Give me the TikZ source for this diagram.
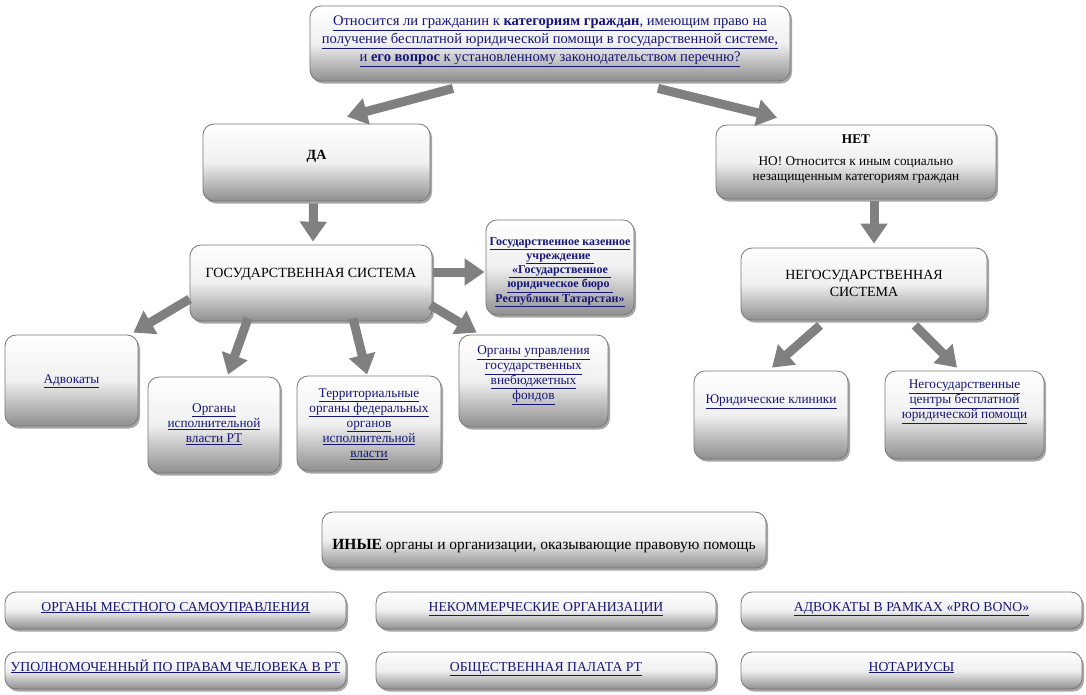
\documentclass[tikz,border=0pt]{standalone}
\usepackage{fontspec}
\setmainfont{Liberation Serif}
\usetikzlibrary{shadows,arrows.meta,calc}
\definecolor{lnk}{RGB}{22,22,120}
\definecolor{arrc}{RGB}{128,128,128}
\definecolor{boxline}{RGB}{120,120,120}
\newcommand\ul[1]{\underline{#1}}
\tikzset{
  box/.style={draw=boxline, line width=0.8pt, rounded corners=11pt,
    top color=white, bottom color=gray!88, middle color=gray!12,
    drop shadow={shadow xshift=2pt, shadow yshift=-2.5pt, opacity=0.35, fill=black},
    inner sep=0pt},
  txt/.style={align=center, font=\fontsize{13.3}{15}\selectfont, inner sep=0pt},
  lk/.style={txt, text=lnk},
  rowt/.style={lk, anchor=base, font=\fontsize{13.7}{15}\selectfont},
  arr/.style={draw=arrc, line width=9pt, -{Triangle[length=20pt,width=26pt]}},
}
\begin{document}
\begin{tikzpicture}[x=1pt,y=-1pt]
\useasboundingbox[fill=white] (0,0) rectangle (1086,694);

% boxes
\node[box, minimum width=480, minimum height=75] (top) at (550,43.5) {};
\node[box, minimum width=227, minimum height=77] (da) at (316.5,162.5) {};
\node[box, minimum width=280, minimum height=74] (net) at (856,162) {};
\node[box, minimum width=242, minimum height=76] (gos) at (311,283) {};
\node[box, minimum width=148, minimum height=95] (gku) at (560,267.5) {};
\node[box, minimum width=246, minimum height=72] (negos) at (864,284) {};
\node[box, minimum width=133, minimum height=91] (adv) at (71.5,380.5) {};
\node[box, minimum width=132, minimum height=96] (oiv) at (214,425) {};
\node[box, minimum width=144, minimum height=95] (terr) at (369,423.5) {};
\node[box, minimum width=149, minimum height=92] (oupr) at (533.5,381) {};
\node[box, minimum width=154, minimum height=88] (yurk) at (771,415) {};
\node[box, minimum width=159, minimum height=88] (ngc) at (964.5,415) {};
\node[box, minimum width=444, minimum height=56] (ine) at (544,540) {};
\node[box, minimum width=341, minimum height=37] (r1a) at (175.5,610.5) {};
\node[box, minimum width=340, minimum height=37] (r1b) at (546,610.5) {};
\node[box, minimum width=341, minimum height=37] (r1c) at (911.5,610.5) {};
\node[box, minimum width=341, minimum height=37] (r2a) at (175.5,670.5) {};
\node[box, minimum width=340, minimum height=37] (r2b) at (546,670.5) {};
\node[box, minimum width=341, minimum height=37] (r2c) at (911.5,670.5) {};

% texts
\node[lk, font=\fontsize{14.6}{18}\selectfont] (topt) at (550,41) {\ul{Относится ли гражданин к \textbf{категориям граждан}, имеющим право на}\\
\ul{получение бесплатной юридической помощи в государственной системе,}\\
\ul{и \textbf{его вопрос} к установленному законодательством перечню?}};
\node[txt, font=\fontsize{14}{16}\selectfont] (dat) at (316.5,156) {\textbf{ДА}};
\node[txt] (nett) at (856,159) {\textbf{НЕТ}\\[7pt]НО! Относится к иным социально\\незащищенным категориям граждан};
\node[txt, font=\fontsize{14}{16}\selectfont] (gost) at (311,274) {ГОСУДАРСТВЕННАЯ СИСТЕМА};
\node[lk, font=\fontsize{12}{14.3}\selectfont\bfseries] (gkut) at (560,272) {\ul{Государственное казенное}\\\ul{учреждение }\\\ul{ «Государственное }\\\ul{юридическое бюро }\\\ul{Республики Татарстан»}};
\node[txt, font=\fontsize{14}{17}\selectfont] (negost) at (864,283) {НЕГОСУДАРСТВЕННАЯ\\СИСТЕМА};
\node[lk] (advt) at (71.5,381) {\ul{Адвокаты}};
\node[lk] (oivt) at (214,424) {\ul{Органы}\\\ul{исполнительной}\\\ul{власти РТ}};
\node[lk] (terrt) at (369,424) {\ul{Территориальные}\\\ul{органы федеральных}\\\ul{органов}\\\ul{исполнительной}\\\ul{власти}};
\node[lk] (ouprt) at (533.5,375) {\ul{Органы управления}\\\ul{государственных}\\\ul{внебюджетных}\\\ul{фондов}};
\node[lk] (yurkt) at (771,402) {\ul{Юридические клиники}};
\node[lk] (ngct) at (964.5,402) {\ul{Негосударственные}\\\ul{центры бесплатной}\\\ul{юридической помощи}};
\node[txt, font=\fontsize{15.5}{17}\selectfont] (inet) at (544,546) {\textbf{ИНЫЕ} органы и организации, оказывающие правовую помощь};
\node[rowt] (r1at) at (175.5,611) {\ul{ОРГАНЫ МЕСТНОГО САМОУПРАВЛЕНИЯ}};
\node[rowt] (r1bt) at (546,611) {\ul{НЕКОММЕРЧЕСКИЕ ОРГАНИЗАЦИИ}};
\node[rowt] (r1ct) at (911.5,611) {\ul{АДВОКАТЫ В РАМКАХ «PRO BONO»}};
\node[rowt] (r2at) at (175.5,671) {\ul{УПОЛНОМОЧЕННЫЙ ПО ПРАВАМ ЧЕЛОВЕКА В РТ}};
\node[rowt] (r2bt) at (546,671) {\ul{ОБЩЕСТВЕННАЯ ПАЛАТА РТ}};
\node[rowt] (r2ct) at (911.5,671) {\ul{НОТАРИУСЫ}};

% arrows
\draw[arr] ($(top.south)+(-97,7)$) -- ($(da.north)+(30.5,-7)$);
\draw[arr] ($(top.south)+(108,7)$) -- ($(net.north)+(-79,-7)$);
\draw[arr] ($(da.south)+(-3,2)$) -- ($(gos.north)+(2,-3)$);
\draw[arr] ($(net.south)+(18,2)$) -- ($(negos.north)+(10,-4)$);
\draw[arr] ($(gos.east)+(1,-11)$) -- ($(gku.west)+(-1,4.5)$);
\draw[arr] ($(gos.west)+(0,16)$) -- ($(adv.north east)+(-5,-2)$);
\draw[arr] ($(gos.south)+(-63,-3)$) -- ($(oiv.north)+(14,-2)$);
\draw[arr] ($(gos.south)+(42,-3)$) -- ($(terr.north)+(-2,-1)$);
\draw[arr] ($(gos.east)+(-2,22)$) -- ($(oupr.north west)+(18,-2)$);
\draw[arr] ($(negos.south)+(-44,5)$) -- ($(yurk.north)+(1,-3)$);
\draw[arr] ($(negos.south)+(51,5)$) -- ($(ngc.north)+(-7.5,-3)$);
\end{tikzpicture}
\end{document}
